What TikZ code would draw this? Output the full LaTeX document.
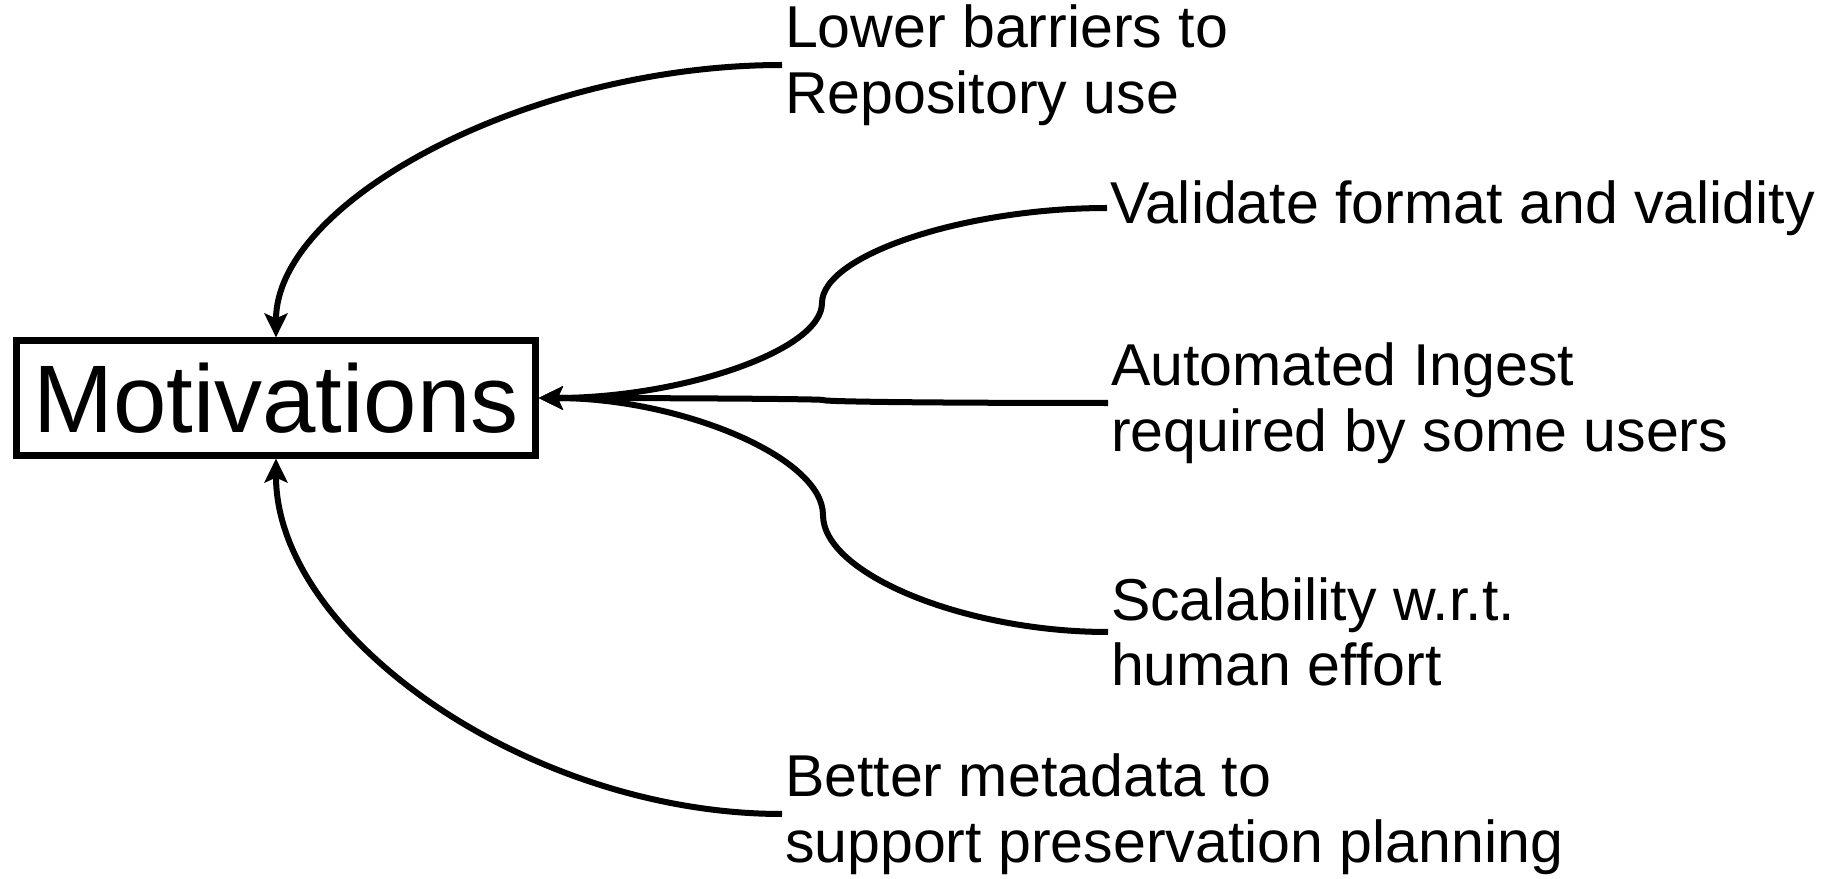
\documentclass[tikz,border=0pt]{standalone}
\usepackage{fontspec}
\setmainfont{Liberation Sans}
\usepackage{tikz}
\usetikzlibrary{arrows.meta}

\newcommand{\mvfont}{\fontsize{27.3pt}{32pt}\selectfont}
\newcommand{\lbfont}{\fontsize{16.8pt}{18.7pt}\selectfont}

\begin{document}
\begin{tikzpicture}
  [
    x = 0.01cm, y = -0.01cm,
    line width = 0.06cm,
    box/.style  = {draw, line width = 0.07cm, inner sep = 0,
                   minimum width = 5.18cm, minimum height = 1.14cm, font = \mvfont},
    item/.style = {anchor = west, align = left, inner sep = 0, font = \lbfont},
    link/.style = {-{Stealth[length = 0.24cm, width = 0.23cm, inset = 0.05cm]}}
  ]
  \useasboundingbox (0,0) rectangle (1835,879);

  \node [box] (Motiv) at (276,398) {Motivations};

  \node [item] (Lower)    at (782,65)   {Lower barriers to\\Repository use};
  \node [item] (Validate) at (1107,208) {Validate format and validity};
  \node [item] (Ingest)   at (1108,403) {Automated Ingest\\required by some users};
  \node [item] (Scale)    at (1108,632) {Scalability w.r.t.\\human effort};
  \node [item] (Better)   at (782,814)  {Better metadata to\\support preservation planning};

  % outer loops
  \draw [link] (Lower.west)  .. controls (529,65)  and (276,201) .. (Motiv.north);
  \draw [link] (Better.west) .. controls (529,814) and (276,636) .. (Motiv.south);
  % right hand side
  \draw [link] (Validate.west) .. controls (965,208) and (822,255) .. (822,303)
                               .. controls (822,351) and (680,398) .. (Motiv.east);
  \draw [link] (Ingest.west)   .. controls (965,403) and (823,402) .. (823,400)
                               .. controls (823,399) and (680,398) .. (Motiv.east);
  \draw [link] (Scale.west)    .. controls (965,632) and (823,574) .. (823,515)
                               .. controls (823,457) and (680,398) .. (Motiv.east);
\end{tikzpicture}
\end{document}
